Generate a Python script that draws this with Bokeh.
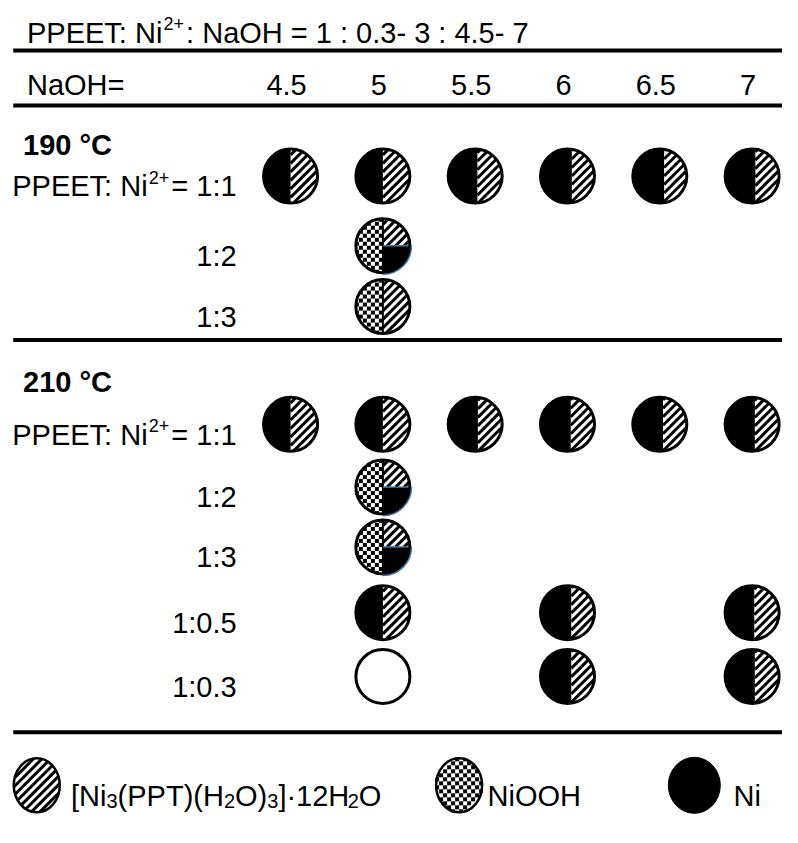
import numpy as np
from bokeh.plotting import figure
from bokeh.models import Range1d
from bokeh.core.properties import value
from bokeh.embed import file_html
from bokeh.resources import INLINE

# ---------------- data ----------------
# rich texts as (text, kind) pieces: kind "n" normal, "sup" superscript, "sub" subscript
title_pieces = [("PPEET: Ni", "n"), ("2+", "sup"), (": NaOH = 1 : 0.3- 3 : 4.5- 7", "n")]
naoh_header = "NaOH="
naoh_values = [4.5, 5.0, 5.5, 6.0, 6.5, 7.0]
naoh_labels = ["4.5", "5", "5.5", "6", "6.5", "7"]
temp_labels = ["190 °C", "210 °C"]
ratios_190 = ["1:1", "1:2", "1:3"]
ratios_210 = ["1:1", "1:2", "1:3", "1:0.5", "1:0.3"]
first_ratio_prefix = [("PPEET: Ni", "n"), ("2+", "sup"), ("= ", "n")]

cell_temp = ["190 °C"] * 8 + ["210 °C"] * 14
cell_ratio = (["1:1"] * 6 + ["1:2", "1:3"]
              + ["1:1"] * 6 + ["1:2", "1:3", "1:0.5", "1:0.5", "1:0.5",
                               "1:0.3", "1:0.3", "1:0.3"])
cell_naoh = [4.5, 5, 5.5, 6, 6.5, 7, 5, 5,
             4.5, 5, 5.5, 6, 6.5, 7, 5, 5, 5, 6, 7, 5, 6, 7]
# phases: "Ni+PPT" (Ni + [Ni3(PPT)(H2O)3]·12H2O), "NiOOH+PPT+Ni", "NiOOH+PPT", "none"
cell_phase = (["Ni+PPT"] * 6 + ["NiOOH+PPT+Ni", "NiOOH+PPT"]
              + ["Ni+PPT"] * 6 + ["NiOOH+PPT+Ni", "NiOOH+PPT+Ni",
                                  "Ni+PPT", "Ni+PPT", "Ni+PPT",
                                  "none", "Ni+PPT", "Ni+PPT"])
# share of the circle's diameter taken by Ni (for the Ni+PPT cells)
cell_ni_share = [0.50, 0.50, 0.54, 0.58, 0.58, 0.56, 0, 0,
                 0.50, 0.50, 0.55, 0.56, 0.56, 0.55, 0, 0,
                 0.50, 0.57, 0.54, 0, 0.57, 0.55]
legend_pieces = [
    [("[Ni", "n"), ("3", "sub"), ("(PPT)(H", "n"), ("2", "sub"), ("O)", "n"),
     ("3", "sub"), ("]·12H", "n"), ("2", "sub"), ("O", "n")],
    [("NiOOH", "n")],
    [("Ni", "n")],
]

# ---------------- layout (reference pixel coordinates) ----------------
W, H = 782, 827
SX, SY = W / 798, H / 843     # screen px per reference px
R = 27.0                      # circle radius (screen px)
U = 188.4                     # reference px per NaOH unit
X45 = 296.0                   # reference px position of NaOH = 4.5


def X(px):
    return 4.5 + (px - X45) / U


row_y = {("190 °C", "1:1"): 179, ("190 °C", "1:2"): 250, ("190 °C", "1:3"): 312,
         ("210 °C", "1:1"): 432, ("210 °C", "1:2"): 496, ("210 °C", "1:3"): 557,
         ("210 °C", "1:0.5"): 624, ("210 °C", "1:0.3"): 689}
temp_y = {"190 °C": 137, "210 °C": 378}
rule_y = [51, 107, 346, 746]
legend_y = 800
FONT = value("Liberation Sans")
FSZ = 29
FS = f"{FSZ}px"
CAP = 10.5
KIND = {"n": (FSZ, 0, 0), "sup": (18, -9, -2), "sub": (20, 5, 0)}
ADV = {'P': 667, 'E': 667, 'T': 611, ':': 278, ' ': 278, 'N': 722, 'i': 222, 'a': 556,
       'O': 778, 'H': 722, '=': 584, '1': 556, '0': 556, '.': 278, '3': 556, '-': 333,
       '4': 556, '5': 556, '7': 556, '2': 556, '+': 584, '[': 278, ']': 278, '(': 333,
       ')': 333, '·': 278}

p = figure(width=W, height=H, x_range=Range1d(X(0), X(798)),
           y_range=Range1d(843, 0), output_backend="svg", toolbar_location=None,
           min_border=0, x_axis_type=None, y_axis_type=None)
p.grid.visible = False
p.outline_line_color = None


def width_of(s, size):
    return sum(ADV.get(c, 556) for c in s) * size / 1000.0


def rich_text(x, y, pieces, align="left"):
    total = sum(width_of(s, KIND[k][0]) for s, k in pieces)
    off = -total if align == "right" else 0.0
    for s, k in pieces:
        size, dy, dx = KIND[k]
        p.text(x=[x], y=[y], text=[s], text_font=FONT, text_font_size=f"{size}px",
               text_baseline="alphabetic", x_offset=off + dx, y_offset=dy)
        off += width_of(s, size)


DX = 1.0 / (U * SX)   # data x per screen px
DY = 1.0 / SY         # data y per screen px
Q = 4.0               # checker square size (screen px)
HSTEP = 8.5           # hatch period along x (screen px)
HW = 3.0              # hatch line width


def checker(x0, y0, rx, ry, left_only):
    n = int(np.ceil(max(rx, ry) / Q)) + 1
    xs, ys = [], []
    for i in range(-n, 0 if left_only else n):
        for j in range(-n, n):
            if (i + j) % 2:
                continue
            xc, yc = (i + 0.5) * Q, (j + 0.5) * Q
            if (xc / rx) ** 2 + (yc / ry) ** 2 <= 1.0:
                xs.append(x0 + xc * DX)
                ys.append(y0 + yc * DY)
    return xs, ys


def hatch(x0, y0, a, b, xmin=-1e9, ymin=-1e9):
    """'/' lines (y = x - c, y up, screen px) inside an ellipse, clipped to x>=xmin, y>=ymin."""
    out = ([], [], [], [])
    A = 1 / a ** 2 + 1 / b ** 2
    n = int((a + b) / HSTEP) + 2
    for k in range(-n, n + 1):
        c = (k + 0.5) * HSTEP
        B = -2 * c / b ** 2
        C = c ** 2 / b ** 2 - 1
        disc = B * B - 4 * A * C
        if disc <= 0:
            continue
        x1 = (-B - np.sqrt(disc)) / (2 * A)
        x2 = (-B + np.sqrt(disc)) / (2 * A)
        lo = max(x1, xmin, ymin + c)
        if lo >= x2:
            continue
        out[0].append(x0 + lo * DX)
        out[1].append(y0 - (lo - c) * DY)
        out[2].append(x0 + x2 * DX)
        out[3].append(y0 - (x2 - c) * DY)
    return out


H_X0, H_Y0, H_X1, H_Y1 = [], [], [], []


def add_hatch(seg):
    H_X0.extend(seg[0])
    H_Y0.extend(seg[1])
    H_X1.extend(seg[2])
    H_Y1.extend(seg[3])


cx = np.array(cell_naoh, dtype=float)
cy = np.array([row_y[(t, r)] for t, r in zip(cell_temp, cell_ratio)], dtype=float)
ph = np.array(cell_phase)

# NiOOH checker on the left half (drawn first, trimmed by a white ring)
m23 = (ph == "NiOOH+PPT+Ni") | (ph == "NiOOH+PPT")
qx, qy = [], []
for x0, y0 in zip(cx[m23], cy[m23]):
    a, b = checker(x0, y0, R, R, True)
    qx += a
    qy += b
p.rect(x=qx, y=qy, width=Q * DX, height=Q * DY, fill_color="black", line_color=None)
p.scatter(x=cx[m23], y=cy[m23], size=2 * R + 9, marker="circle", fill_color=None,
          line_color="white", line_width=6)

# legend NiOOH oval checker
leg_x = [X(37), X(468), X(708)]
lw, lh = 46, 54
a, b = checker(leg_x[1], legend_y, lw / 2, lh / 2, False)
p.rect(x=a, y=b, width=Q * DX, height=Q * DY, fill_color="black", line_color=None)
p.ellipse(x=[leg_x[1]], y=[legend_y], width=lw + 9, height=lh + 9, width_units="screen",
          height_units="screen", fill_color=None, line_color="white", line_width=6)

# rules
for yy in rule_y:
    p.segment(x0=X(13), x1=X(800), y0=yy, y1=yy, line_color="black", line_width=4)

# texts
rich_text(X(27), 33, title_pieces)
p.text(x=[X(27)], y=[86], text=[naoh_header], text_font=FONT, text_font_size=FS,
       text_baseline="alphabetic")
p.text(x=naoh_values, y=[86] * len(naoh_values), text=naoh_labels, text_font=FONT,
       text_font_size=FS, text_align="center", text_baseline="alphabetic", x_offset=-4)
p.text(x=[X(23)] * 2, y=[temp_y[t] + CAP for t in temp_labels], text=temp_labels,
       text_font=FONT, text_font_size=FS, text_font_style="bold",
       text_baseline="alphabetic")
for t, rows in (("190 °C", ratios_190), ("210 °C", ratios_210)):
    for r in rows:
        pieces = (first_ratio_prefix if r == "1:1" else []) + [(r, "n")]
        rich_text(X(241), row_y[(t, r)] + CAP, pieces, align="right")

# Ni + PPT : black segment with hatched segment on the right
m1 = ph == "Ni+PPT"
p.scatter(x=cx[m1], y=cy[m1], size=2 * R, marker="circle", fill_color="black",
          line_color=None)
xs, ys = [], []
for x0, y0, s in zip(cx[m1], cy[m1], np.array(cell_ni_share)[m1]):
    d = (2 * s - 1) * R
    ang = np.arccos(d / R)
    t = np.linspace(-ang, ang, 60)
    xs.append(list(x0 + R * np.cos(t) * DX))
    ys.append(list(y0 - R * np.sin(t) * DY))
    add_hatch(hatch(x0, y0, R, R, xmin=d))
p.patches(xs=xs, ys=ys, fill_color="white", line_color=None)

m2 = ph == "NiOOH+PPT"
for x0, y0 in zip(cx[m2], cy[m2]):
    add_hatch(hatch(x0, y0, R, R, xmin=0))
m3 = ph == "NiOOH+PPT+Ni"
p.wedge(x=cx[m3], y=cy[m3], radius=R, radius_units="screen", start_angle=-np.pi / 2,
        end_angle=0, fill_color="black", line_color=None)
for x0, y0 in zip(cx[m3], cy[m3]):
    add_hatch(hatch(x0, y0, R, R, xmin=0, ymin=0))

# legend hatched oval
add_hatch(hatch(leg_x[0], legend_y, lw / 2, lh / 2))

p.segment(x0=H_X0, y0=H_Y0, x1=H_X1, y1=H_Y1, line_color="black", line_width=HW,
          line_cap="butt")

p.segment(x0=cx[m23], x1=cx[m23], y0=cy[m23] - R * DY, y1=cy[m23] + R * DY,
          line_color="black", line_width=2)
p.segment(x0=cx[m3], x1=cx[m3] + R * DX, y0=cy[m3], y1=cy[m3], line_color="#41719c",
          line_width=1.5)

# outlines
p.scatter(x=cx, y=cy, size=2 * R, marker="circle", fill_color=None, line_color="black",
          line_width=3)
p.arc(x=cx[m3], y=cy[m3], radius=R + 1.6, radius_units="screen", start_angle=-np.pi / 2,
      end_angle=0, line_color="#41719c", line_width=1.5)

# legend
p.ellipse(x=leg_x[:2], y=[legend_y] * 2, width=lw, height=lh, width_units="screen",
          height_units="screen", fill_color=None, line_color="black", line_width=2.5)
p.ellipse(x=[leg_x[2]], y=[legend_y], width=52, height=56, width_units="screen",
          height_units="screen", fill_color="black", line_color="black")
for lx, pieces in zip([X(72), X(497), X(748)], legend_pieces):
    rich_text(lx, legend_y + CAP, pieces)

open("out.html", "w").write(file_html(p, INLINE))
